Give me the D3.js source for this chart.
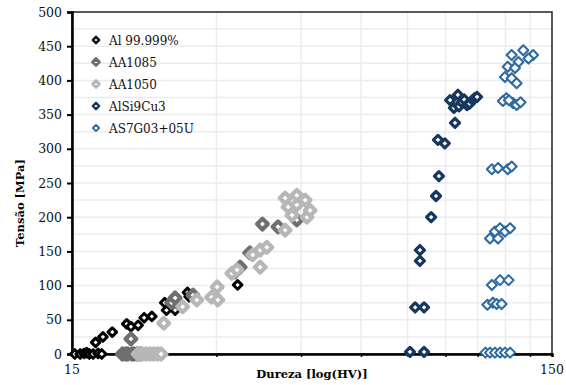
<!DOCTYPE html>
<html>
<head>
<meta charset="utf-8">
<script src="https://cdn.jsdelivr.net/npm/d3@7/dist/d3.min.js"></script>
<style>
  body { margin: 0; background: #fff; }
  text { font-family: "DejaVu Serif", serif; }
</style>
</head>
<body>
<script>
// series names and colours, in legend order
const seriesNames = ["Al 99.999%", "AA1085", "AA1050", "AlSi9Cu3", "AS7G03+05U"];
const seriesColors = ["#000000", "#6f6f6f", "#b7b7b7", "#17375e", "#2e6aa3"];

// [hardness HV, stress MPa]
const al99999 = [
  [15.2, 0], [15.6, 0], [15.9, 1], [16.1, 2], [16.3, 0], [16.6, 0], [17.0, 1], [17.3, 0],
  [16.8, 17], [17.4, 25], [18.2, 32], [19.5, 44], [19.9, 40], [20.6, 42], [21.2, 53],
  [22.0, 55], [23.4, 75], [23.6, 64], [24.6, 64], [26.1, 90], [26.3, 84], [33.2, 101]
];
const aa1085 = [
  [19.1, 0], [19.4, 0], [19.6, 0], [20.0, 0], [20.2, 0], [20.5, 0], [20.8, 0],
  [19.9, 22], [24.2, 75], [24.6, 82], [26.8, 86], [32.8, 120], [33.6, 127],
  [35.2, 148], [37.4, 190], [40.3, 186], [44.1, 196]
];
const aa1050 = [
  [20.6, 0], [21.0, 0], [21.4, 0], [21.8, 0], [22.2, 0], [22.6, 0], [23.0, 0],
  [23.3, 45], [25.5, 69], [27.3, 79], [29.3, 83], [30.1, 98], [30.2, 79],
  [32.3, 118], [33.1, 123], [35.7, 145], [37.0, 127], [37.0, 152], [38.2, 156],
  [41.7, 181], [43.1, 203], [42.3, 215], [44.1, 218], [46.3, 200], [47.0, 210],
  [41.7, 228], [44.1, 232], [45.9, 225]
];
const alSi9Cu3 = [
  [75.9, 3], [81.2, 3], [77.8, 68], [81.2, 68], [79.6, 152], [79.6, 136],
  [84.0, 200], [86.0, 231], [87.2, 260], [86.8, 313], [89.7, 308], [94.2, 338],
  [92.0, 371], [95.5, 379], [93.7, 360], [96.0, 362], [97.3, 368], [98.5, 372],
  [99.8, 364], [101.0, 366], [102.6, 371], [103.5, 374], [104.7, 376]
];
const as7g03 = [
  [123.6, 437], [130.7, 444], [137.0, 437], [127.7, 427], [134.0, 432], [121.3, 420],
  [125.6, 418], [119.7, 405], [123.6, 403], [126.6, 396], [120.5, 374], [124.4, 367],
  [126.6, 364], [118.5, 370], [129.0, 368], [122.0, 371],
  [112.4, 270], [115.8, 272], [121.3, 270], [123.6, 274],
  [111.4, 169], [114.1, 179], [115.8, 169], [116.9, 184], [119.7, 179], [122.7, 184],
  [112.4, 101], [116.9, 108], [121.8, 108],
  [110.0, 72], [113.0, 75], [115.0, 73], [117.8, 73],
  [109.0, 2], [111.4, 2], [114.1, 2], [116.9, 2], [119.7, 2], [122.7, 2]
];
const seriesData = [al99999, aa1085, aa1050, alSi9Cu3, as7g03];

const xTickLabels = [15, 150];
const xMinor = [30, 45, 60, 75, 90, 105, 120, 135];
const yTicks = [0, 50, 100, 150, 200, 250, 300, 350, 400, 450, 500];

const width = 566, height = 385;
const margin = { top: 12, right: 14, bottom: 31, left: 72 };

const x = d3.scaleLog()
  .domain([15, 150])
  .range([margin.left, width - margin.right]);
const y = d3.scaleLinear()
  .domain([0, 500])
  .range([height - margin.bottom, margin.top]);

// marker look per series: radius, stroke width
const markerStyle = [
  { r: 4.3, sw: 3.0 },
  { r: 5.4, sw: 4.2 },
  { r: 5.4, sw: 4.2 },
  { r: 4.5, sw: 3.2 },
  { r: 5.0, sw: 2.1 }
];
const diamond = r => `M0,${-r}L${r},0L0,${r}L${-r},0Z`;

const svg = d3.select("body").append("svg")
  .attr("width", width)
  .attr("height", height);

// grid
const grid = svg.append("g").attr("stroke", "#ececec").attr("stroke-width", 1.5);
grid.selectAll("line.h")
  .data(d3.range(25, 500, 25))
  .join("line")
  .attr("x1", margin.left).attr("x2", width - margin.right)
  .attr("y1", d => y(d)).attr("y2", d => y(d));
grid.selectAll("line.v")
  .data(xMinor)
  .join("line")
  .attr("x1", d => x(d)).attr("x2", d => x(d))
  .attr("y1", margin.top).attr("y2", height - margin.bottom);

// frame
svg.append("rect")
  .attr("x", margin.left).attr("y", margin.top)
  .attr("width", width - margin.left - margin.right)
  .attr("height", height - margin.top - margin.bottom)
  .attr("fill", "none").attr("stroke", "#222").attr("stroke-width", 1.5);

// y axis
const gy = svg.append("g")
  .attr("transform", `translate(${margin.left},0)`)
  .call(d3.axisLeft(y).tickValues(yTicks).tickSize(5).tickPadding(5));
gy.select(".domain").attr("stroke-width", 2.5);
gy.selectAll(".tick line").attr("stroke-width", 2);
gy.selectAll("text").attr("font-size", 12.5).attr("font-family", "DejaVu Serif").attr("fill", "#111");

// x axis: minor tick marks, labels only at 15 and 150
const gx = svg.append("g")
  .attr("transform", `translate(0,${height - margin.bottom})`)
  .call(d3.axisBottom(x).tickValues(xMinor).tickSize(3).tickFormat(""));
gx.select(".domain").attr("stroke-width", 2.5);
gx.selectAll(".tick line").attr("stroke-width", 1.5);

svg.append("g").selectAll("text")
  .data(xTickLabels)
  .join("text")
  .attr("x", d => x(d))
  .attr("y", height - margin.bottom + 20)
  .attr("text-anchor", "middle")
  .attr("font-size", 12.5)
  .attr("fill", "#111")
  .text(d => d);

// axis titles
svg.append("text")
  .attr("x", 312).attr("y", 378)
  .attr("text-anchor", "middle")
  .attr("font-size", 11.5).attr("font-weight", "bold")
  .text("Dureza [log(HV)]");
svg.append("text")
  .attr("transform", "translate(24,203) rotate(-90)")
  .attr("text-anchor", "middle")
  .attr("font-size", 11.5).attr("font-weight", "bold")
  .text("Tensão  [MPa]");

// points
seriesData.forEach((data, i) => {
  svg.append("g")
    .attr("fill", "#fff")
    .attr("stroke", seriesColors[i])
    .attr("stroke-width", markerStyle[i].sw)
    .attr("stroke-linejoin", "round")
    .selectAll("path")
    .data(data)
    .join("path")
    .attr("transform", d => `translate(${x(d[0])},${y(d[1])})`)
    .attr("d", diamond(markerStyle[i].r));
});

// legend
const legend = svg.append("g")
  .selectAll("g")
  .data(seriesNames)
  .join("g")
  .attr("transform", (d, i) => `translate(96,${40 + i * 22})`);
legend.append("path")
  .attr("d", diamond(3.2))
  .attr("fill", "#fff")
  .attr("stroke", (d, i) => seriesColors[i])
  .attr("stroke-width", (d, i) => i === 4 ? 1.8 : (i === 1 || i === 2 ? 3.2 : 2.4))
  .attr("stroke-linejoin", "round");
legend.append("text")
  .attr("x", 13).attr("y", 4.5)
  .attr("font-size", 12)
  .attr("fill", "#111")
  .text(d => d);
</script>
</body>
</html>
